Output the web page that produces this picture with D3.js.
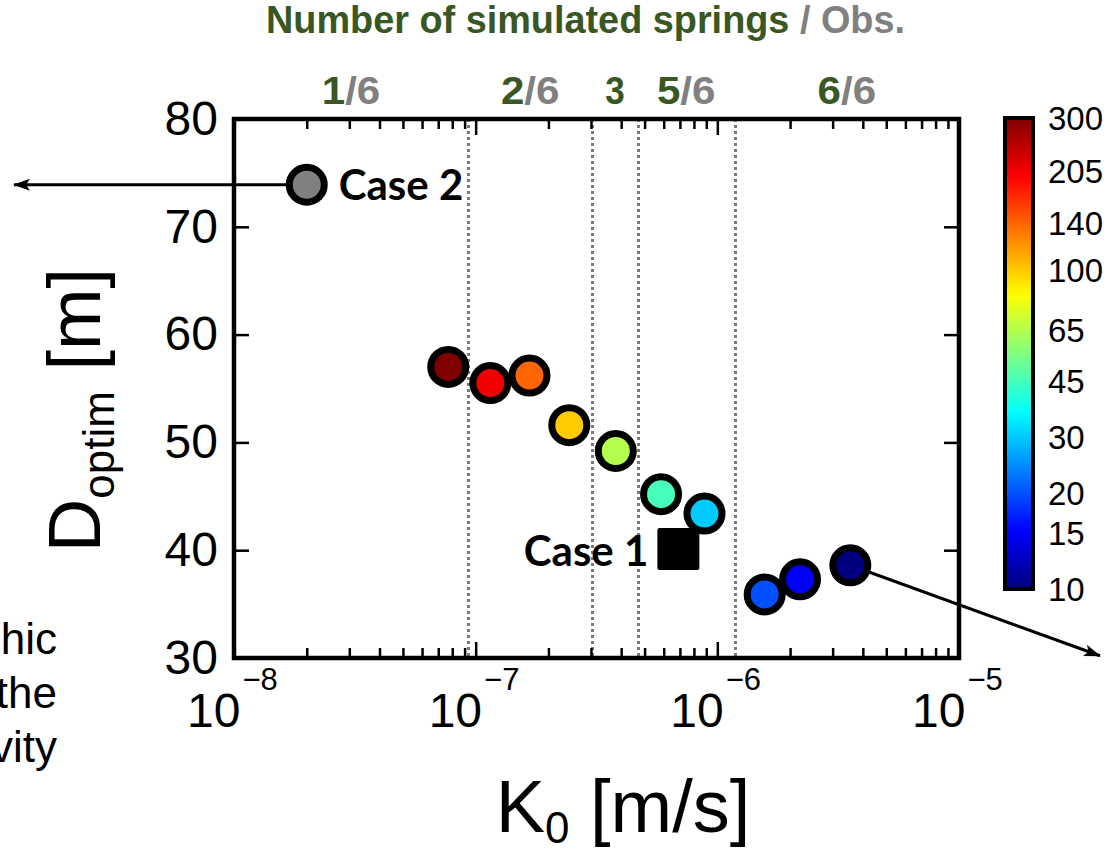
<!DOCTYPE html>
<html>
<head>
<meta charset="utf-8">
<script src="https://cdnjs.cloudflare.com/ajax/libs/d3/7.8.5/d3.min.js"></script>
<style>
body { margin: 0; background: #fff; }
svg { display: block; }
text { font-family: "Liberation Sans", Arial, sans-serif; }
</style>
</head>
<body>
<svg id="chart" width="1115" height="851"></svg>
<script>
// number of simulated springs for each run (also used as the colour value)
var springCounts = [300, 205, 140, 100, 65, 45, 30, 20, 15, 10];
var k0Values = [7.7e-8, 1.15e-7, 1.67e-7, 2.44e-7, 3.8e-7, 5.85e-7, 8.85e-7, 1.57e-6, 2.2e-6, 3.55e-6];
var dOptim = [57.0, 55.5, 56.2, 51.6, 49.2, 45.2, 43.4, 35.9, 37.3, 38.6];

// reference cases
var caseNames = ['Case 1', 'Case 2'];
var caseK0 = [6.9e-7, 2.0e-8];
var caseD = [40.1, 73.9];

// arrow targets (data units, outside of the axes)
var arrowK0 = [1.23e-9, 3.83e-5];
var arrowD = [73.9, 30.2];

// K0 limits between the "number of springs" zones
var zoneLimits = [9.3e-8, 3.04e-7, 4.68e-7, 1.18e-6];
var zoneSimulated = ['1', '2', '3', '5', '6'];
var zoneObserved = ['/6', '/6', '', '/6', '/6'];

var yTicks = [30, 40, 50, 60, 70, 80];
var xDecades = [-8, -7, -6, -5];
var colorTicks = [10, 15, 20, 30, 45, 65, 100, 140, 205, 300];
var sideText = ['hic', 'the', 'vity'];

var green = '#385723';
var grey = '#808080';

var svg = d3.select('#chart');

// plot box
var box = {l: 234, r: 959, t: 119, b: 658};

var x = d3.scaleLog().domain([1e-8, 1e-5]).range([box.l, box.r]);
var y = d3.scaleLinear().domain([30, 80]).range([box.b, box.t]);

// jet colormap on a log scale of the spring count
function jet(t) {
    var c = function(v) { return Math.max(0, Math.min(1, v)); };
    return d3.rgb(255 * c(1.5 - Math.abs(4 * t - 3)),
                  255 * c(1.5 - Math.abs(4 * t - 2)),
                  255 * c(1.5 - Math.abs(4 * t - 1))).formatHex();
}
var tScale = d3.scaleLog().domain([10, 300]).range([0, 1]);
function color(n) { return jet(tScale(n)); }

var defs = svg.append('defs');
defs.append('marker')
    .attr('id', 'arrow')
    .attr('markerUnits', 'userSpaceOnUse')
    .attr('markerWidth', 18).attr('markerHeight', 14)
    .attr('refX', 16).attr('refY', 7)
    .attr('orient', 'auto')
    .append('path')
    .attr('d', 'M0,1 L17,7 L0,13 L4,7 Z')
    .attr('fill', '#000');

// side text cut from the neighbouring panel
svg.selectAll('.side').data(sideText).enter().append('text')
    .attr('class', 'side')
    .attr('x', 57)
    .attr('y', function(d, i) { return 654 + i * 54; })
    .attr('text-anchor', 'end')
    .style('font-size', '44px')
    .text(function(d) { return d; });

// zone separators
svg.selectAll('.zone').data(zoneLimits).enter().append('line')
    .attr('class', 'zone')
    .attr('x1', function(d) { return Math.round(x(d)) + 0.5; })
    .attr('x2', function(d) { return Math.round(x(d)) + 0.5; })
    .attr('y1', box.t).attr('y2', box.b)
    .attr('stroke', '#7a7a7a')
    .attr('stroke-width', 3)
    .attr('stroke-dasharray', '3,3');

// ticks
var majorVals = xDecades.map(function(e) { return Math.pow(10, e); });
var minorVals = x.ticks().filter(function(d) {
    var l = Math.log10(d);
    return Math.abs(l - Math.round(l)) > 1e-6;
});

function styleTicks(g) {
    g.select('.domain').remove();
    g.selectAll('.tick line').attr('stroke', '#000').attr('stroke-width', 2.5);
}

[[d3.axisBottom, box.b], [d3.axisTop, box.t]].forEach(function(a) {
    svg.append('g')
        .attr('transform', 'translate(0,' + a[1] + ')')
        .call(a[0](x).tickValues(majorVals).tickSize(-16).tickFormat(''))
        .call(styleTicks);
    svg.append('g')
        .attr('transform', 'translate(0,' + a[1] + ')')
        .call(a[0](x).tickValues(minorVals).tickSize(-10).tickFormat(''))
        .call(styleTicks);
});

svg.append('g')
    .attr('transform', 'translate(' + box.l + ',0)')
    .call(d3.axisLeft(y).tickValues(yTicks).tickSize(-15).tickPadding(16))
    .call(styleTicks)
    .selectAll('text')
    .attr('fill', '#000')
    .style('font-family', '"Liberation Sans", Arial, sans-serif')
    .style('font-size', '48px');

svg.append('g')
    .attr('transform', 'translate(' + box.r + ',0)')
    .call(d3.axisRight(y).tickValues(yTicks).tickSize(-15).tickFormat(''))
    .call(styleTicks);

// x tick labels 10^n
var xl = svg.selectAll('.xlab').data(xDecades).enter().append('text')
    .attr('class', 'xlab')
    .attr('x', function(d) { return x(Math.pow(10, d)) - 47; })
    .attr('y', 727)
    .style('font-size', '48px');
xl.append('tspan').text('10');
xl.append('tspan')
    .attr('dx', 2)
    .attr('dy', -37)
    .style('font-size', '31px')
    .text(function(d) { return '\u2212' + Math.abs(d); });

// axis titles
var xt = svg.append('text')
    .attr('x', 623).attr('y', 832)
    .attr('text-anchor', 'middle')
    .style('font-size', '74px');
xt.append('tspan').text('K');
xt.append('tspan').attr('dy', 11).style('font-size', '44px').text('0');
xt.append('tspan').attr('dy', -11).text(' [m/s]');

var yt = svg.append('text')
    .attr('transform', 'translate(100,410) rotate(-90)')
    .attr('text-anchor', 'middle')
    .style('font-size', '74px');
yt.append('tspan').text('D');
yt.append('tspan').attr('dy', 14).style('font-size', '44px').text('optim');
yt.append('tspan').attr('dy', -14).text(' [m]');

// top title and zone labels
var title = svg.append('text')
    .attr('x', 266).attr('y', 33)
    .attr('textLength', 639)
    .attr('lengthAdjust', 'spacingAndGlyphs')
    .style('font-family', '"Liberation Sans Narrow", "Liberation Sans", Arial, sans-serif')
    .style('font-weight', 'bold')
    .style('font-size', '38px');
title.append('tspan').attr('fill', green).text('Number of simulated springs');
title.append('tspan').attr('fill', grey).text(' / Obs.');

var bounds = [1e-8].concat(zoneLimits, [1e-5]);
var zl = svg.selectAll('.zlab').data(zoneSimulated).enter().append('text')
    .attr('class', 'zlab')
    .attr('x', function(d, i) { return (x(bounds[i]) + x(bounds[i + 1])) / 2; })
    .attr('y', 104)
    .attr('text-anchor', 'middle')
    .attr('textLength', function(d, i) { return 19.5 * (d + zoneObserved[i]).length; })
    .attr('lengthAdjust', 'spacingAndGlyphs')
    .style('font-family', '"Liberation Sans Narrow", "Liberation Sans", Arial, sans-serif')
    .style('font-weight', 'bold')
    .style('font-size', '38px');
zl.append('tspan').attr('fill', green).text(function(d) { return d; });
zl.append('tspan').attr('fill', grey).text(function(d, i) { return zoneObserved[i]; });

// annotation arrows (Case 2 -> left, 10 springs -> right)
var last = springCounts.length - 1;
var arrowFrom = [[caseK0[1], caseD[1]], [k0Values[last], dOptim[last]]];
svg.selectAll('.arrow').data(arrowFrom).enter().append('line')
    .attr('class', 'arrow')
    .attr('x1', function(d) { return x(d[0]); })
    .attr('y1', function(d) { return y(d[1]); })
    .attr('x2', function(d, i) { return x(arrowK0[i]); })
    .attr('y2', function(d, i) { return y(arrowD[i]); })
    .attr('stroke', '#000')
    .attr('stroke-width', 3.2)
    .attr('marker-end', 'url(#arrow)');

// Case 1 square
var side = 42;
svg.append('rect')
    .attr('x', x(caseK0[0]) - side / 2)
    .attr('y', y(caseD[0]) - side / 2)
    .attr('width', side).attr('height', side)
    .attr('rx', 2)
    .attr('fill', '#000');

// Case 2 circle
svg.append('circle')
    .attr('cx', x(caseK0[1])).attr('cy', y(caseD[1]))
    .attr('r', 17.5)
    .attr('fill', grey)
    .attr('stroke', '#000')
    .attr('stroke-width', 7);

// simulated runs
var runs = springCounts.map(function(n, i) { return {n: n, k: k0Values[i], d: dOptim[i]}; });
svg.selectAll('.run').data(runs).enter().append('circle')
    .attr('class', 'run')
    .attr('cx', function(d) { return x(d.k); })
    .attr('cy', function(d) { return y(d.d); })
    .attr('r', 17.5)
    .attr('fill', function(d) { return color(d.n); })
    .attr('stroke', '#000')
    .attr('stroke-width', 7);

// case labels
svg.append('text')
    .attr('x', x(caseK0[1]) + 32).attr('y', y(caseD[1]) + 15)
    .style('font-family', 'Lato, "Open Sans", sans-serif')
    .style('font-weight', 'bold')
    .style('font-size', '42px')
    .text(caseNames[1]);
svg.append('text')
    .attr('x', x(caseK0[0]) - 30).attr('y', y(caseD[0]) + 17)
    .attr('text-anchor', 'end')
    .style('font-family', 'Lato, "Open Sans", sans-serif')
    .style('font-weight', 'bold')
    .style('font-size', '42px')
    .text(caseNames[0]);

// plot frame
svg.append('rect')
    .attr('x', box.l).attr('y', box.t)
    .attr('width', box.r - box.l).attr('height', box.b - box.t)
    .attr('fill', 'none')
    .attr('stroke', '#000')
    .attr('stroke-width', 4.5);

// colour bar
var cbY = d3.scaleLog().domain([10, 300]).range([589, 118]);
var grad = defs.append('linearGradient')
    .attr('id', 'jetGrad')
    .attr('x1', 0).attr('y1', 1).attr('x2', 0).attr('y2', 0);
grad.selectAll('stop').data(d3.range(0, 1.0001, 0.02)).enter().append('stop')
    .attr('offset', function(d) { return d; })
    .attr('stop-color', function(d) { return jet(d); });

svg.append('rect')
    .attr('x', 1005).attr('y', cbY(300))
    .attr('width', 28).attr('height', cbY(10) - cbY(300))
    .attr('fill', 'url(#jetGrad)')
    .attr('stroke', '#000')
    .attr('stroke-width', 4);

svg.selectAll('.cblab').data(colorTicks).enter().append('text')
    .attr('class', 'cblab')
    .attr('x', 1048)
    .attr('y', function(d) { return cbY(d); })
    .attr('dy', '0.36em')
    .style('font-size', '33px')
    .text(function(d) { return d; });
</script>
</body>
</html>
